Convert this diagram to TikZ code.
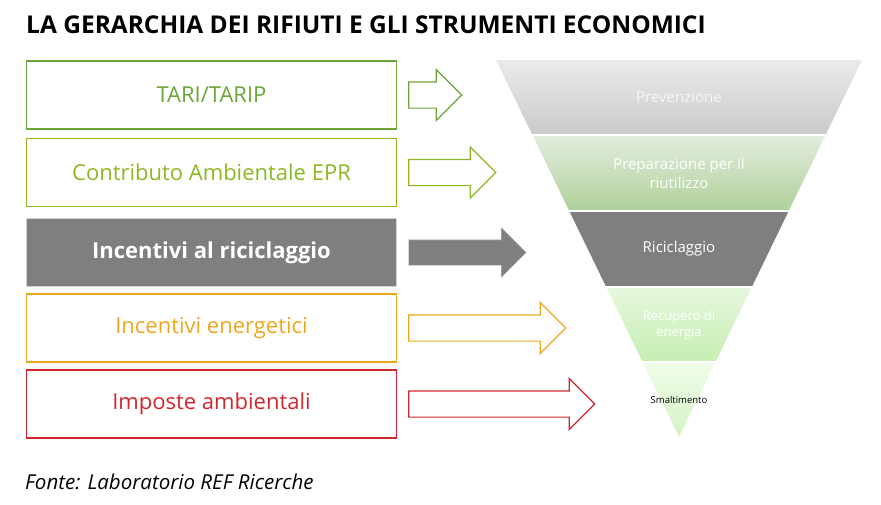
\documentclass[tikz,border=0pt]{standalone}
\usepackage{fontspec}
\setmainfont{Open Sans}
\usetikzlibrary{positioning,shapes.arrows}

\definecolor{tarigreen}{HTML}{6AA539}
\definecolor{eprgreen}{HTML}{8DB823}
\definecolor{recgray}{HTML}{7F7F7F}
\definecolor{enorange}{HTML}{EDA71F}
\definecolor{taxred}{HTML}{D0262E}
\definecolor{prevtop}{HTML}{EAEAEA}
\definecolor{prevbot}{HTML}{CACACA}
\definecolor{preptop}{HTML}{E3EDDE}
\definecolor{prepbot}{HTML}{AFD09A}
\definecolor{recutop}{HTML}{E6F8DD}
\definecolor{recubot}{HTML}{C6EEB2}
\definecolor{smaltop}{HTML}{F0FCE9}
\definecolor{smalbot}{HTML}{D4F3C4}

\tikzset{
  strbox/.style={draw=#1, line width=1.3pt, text=#1, minimum width=370pt,
    minimum height=68pt, inner sep=0pt, font=\fontsize{22}{26}\selectfont},
  blockarrow/.style={single arrow, draw=#1, line width=1.2pt, inner xsep=0pt,
    inner ysep=12.5pt, single arrow head extend=12.5pt, single arrow tip angle=90},
  band/.style={text=white, align=center, font=\fontsize{15}{19}\selectfont}
}

\begin{document}
\begin{tikzpicture}[x=1pt,y=-1pt]
  \useasboundingbox (0,0) rectangle (881,504);
  \node[anchor=base west, inner sep=0pt, font=\bfseries\fontsize{24.5}{28}\selectfont]
    (title) at (26,33) {LA GERARCHIA DEI RIFIUTI E GLI STRUMENTI ECONOMICI};

  % strumenti
  \node[strbox=tarigreen] (tari) at (211.5,95) {TARI/TARIP};
  \node[strbox=eprgreen] (epr) at (211.5,172.5) {Contributo Ambientale EPR};
  \node[strbox=gray!35, fill=recgray, text=white,
    font=\bfseries\fontsize{22}{26}\selectfont] (incric) at (211.5,252.5) {Incentivi al riciclaggio};
  \node[strbox=enorange] (incen) at (211.5,328) {Incentivi energetici};
  \node[strbox=taxred] (imposte) at (211.5,404) {Imposte ambientali};

  % frecce
  \node[blockarrow=tarigreen, minimum height=53pt, right=11pt of tari] (ftari) {};
  \node[blockarrow=eprgreen, minimum height=87pt, right=11pt of epr] (fepr) {};
  \node[blockarrow=gray!30, fill=recgray, line width=0.6pt, minimum height=118pt,
    right=11pt of incric] (fincric) {};
  \node[blockarrow=enorange, minimum height=157pt, right=11pt of incen] (fincen) {};
  \node[blockarrow=taxred, minimum height=186pt, right=11pt of imposte] (fimposte) {};

  % gerarchia
  \shade[top color=prevtop, bottom color=prevbot]
    (496,60) -- (862,60) -- (825.6,135) -- (532.4,135) -- cycle;
  \shade[top color=preptop, bottom color=prepbot]
    (532.4,135) -- (825.6,135) -- (788.7,211) -- (569.3,211) -- cycle;
  \fill[recgray] (569.3,211) -- (788.7,211) -- (751.8,287) -- (606.2,287) -- cycle;
  \shade[top color=recutop, bottom color=recubot]
    (606.2,287) -- (751.8,287) -- (715.4,362) -- (642.6,362) -- cycle;
  \shade[top color=smaltop, bottom color=smalbot]
    (642.6,362) -- (715.4,362) -- (679,437) -- cycle;
  \foreach \y in {135,211,287,362}
    \draw[white, line width=2pt] (480,\y) -- (880,\y);

  \node[band, text=black!3] (prev) at (679,97) {Prevenzione};
  \node[band] (prep) at (679,173) {Preparazione per il\\riutilizzo};
  \node[band] (ricic) at (679,249) {Riciclaggio};
  \node[band, font=\fontsize{13}{16}\selectfont] (recup) at (679,325) {Recupero di\\energia};
  \node[band, text=black, font=\fontsize{9.5}{12}\selectfont] (smalt) at (679,400) {Smaltimento};

  \node[anchor=base west, inner sep=0pt, font=\itshape\fontsize{20.5}{24}\selectfont]
    (fonte) at (25,489) {Fonte: Laboratorio REF Ricerche};
\end{tikzpicture}
\end{document}
